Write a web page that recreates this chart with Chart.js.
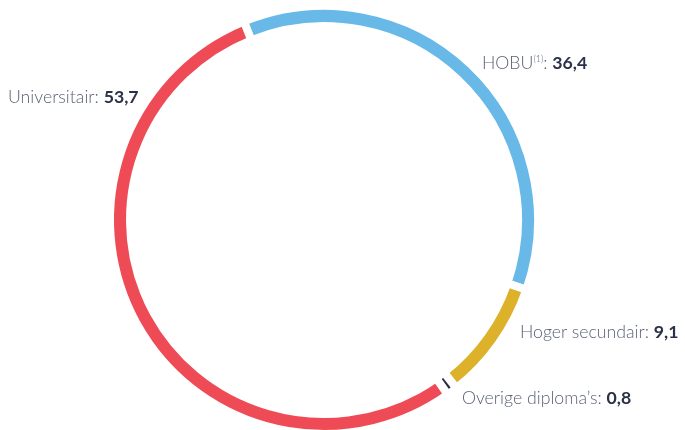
<!DOCTYPE html>
<html>
<head>
<meta charset="utf-8">
<script src="https://cdn.jsdelivr.net/npm/chart.js@4/dist/chart.umd.min.js"></script>
<style>
  html, body { margin: 0; padding: 0; background: #fff; overflow: hidden; }
  .wrap { position: relative; width: 685px; height: 430px; overflow: hidden; }
  canvas { position: absolute; left: 0; top: 0; }
  .lbl {
    position: absolute;
    font-family: Lato, "Noto Sans", sans-serif;
    font-weight: 300;
    font-size: 17.7px;
    color: #5b6275;
    white-space: nowrap;
    line-height: 20px;
  }
  .lbl b { font-weight: 700; color: #2b3247; }
  .lbl sup { font-size: 9px; vertical-align: 7px; line-height: 0; }
</style>
</head>
<body>
<div class="wrap">
  <canvas id="ring" width="685" height="450"></canvas>
  <div class="lbl" style="left:8px; top:87px;">Universitair: <b>53,7</b></div>
  <div class="lbl" style="left:482px; top:53px;">HOBU<sup>(1)</sup>: <b>36,4</b></div>
  <div class="lbl" style="left:520px; top:322px;">Hoger secundair: <b>9,1</b></div>
  <div class="lbl" style="left:462px; top:388px;">Overige diploma’s: <b>0,8</b></div>
</div>
<script>
const categories = ['HOBU', 'Hoger secundair', 'Overige diploma’s', 'Universitair']
const values = [36.4, 9.1, 0.8, 53.7]
const colors = ['#68b9e8', '#ddb22a', '#263047', '#ef4b56']

const ctx = document.querySelector('#ring').getContext('2d')

const chart = new Chart(ctx, {
    type: 'doughnut',
    data: {
        labels: categories,
        datasets: [{
            data: values,
            backgroundColor: colors,
            borderColor: '#ffffff',
            borderWidth: 8,
            borderJoinStyle: 'miter',
            hoverOffset: 0
        }]
    },
    options: {
        responsive: false,
        animation: false,
        cutout: '90.65%',
        rotation: -22,
        layout: {
            padding: { left: 0, right: 37, top: 2, bottom: 12 }
        },
        plugins: {
            legend: { display: false },
            tooltip: { enabled: false }
        },
        events: []
    }
})
</script>
</body>
</html>
